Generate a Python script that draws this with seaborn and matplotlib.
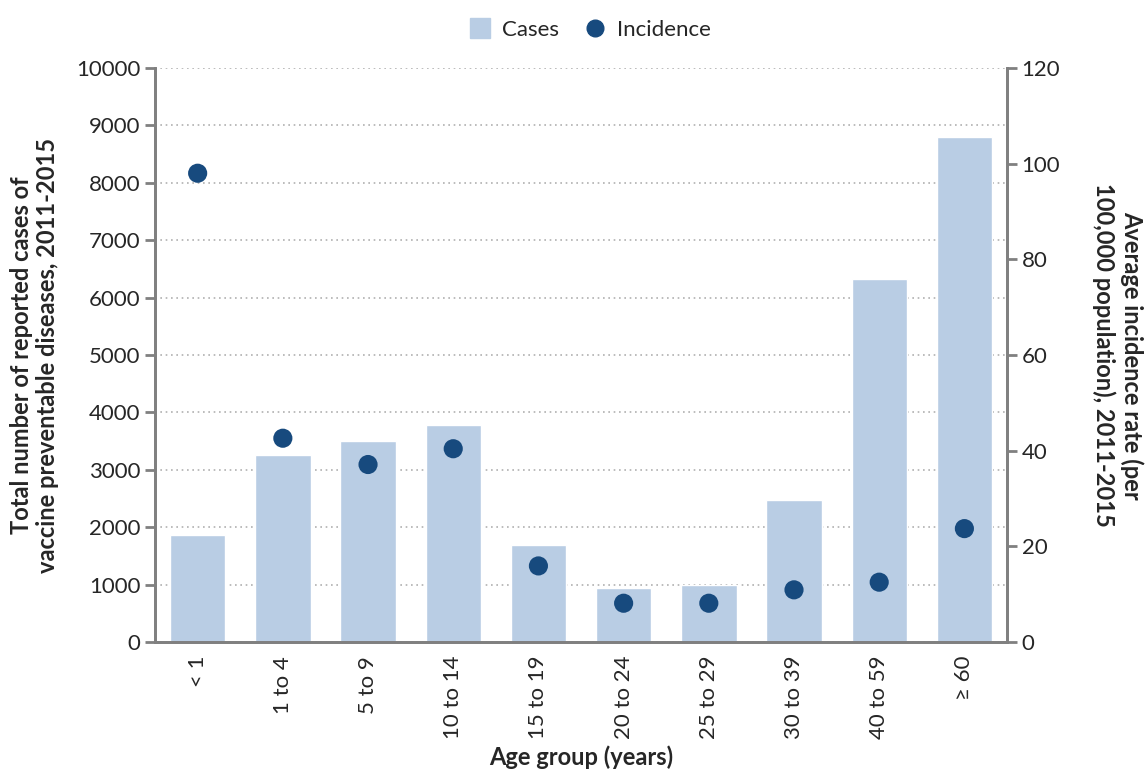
import matplotlib
matplotlib.use("Agg")
import matplotlib.pyplot as plt
from matplotlib.lines import Line2D
import seaborn as sns
import pandas as pd
import numpy as np

age_groups = ["< 1", "1 to 4", "5 to 9", "10 to 14", "15 to 19",
              "20 to 24", "25 to 29", "30 to 39", "40 to 59", "\u2265 60"]
cases = [1865, 3260, 3495, 3775, 1690, 945, 995, 2475, 6320, 8790]
incidence = [98.0, 42.6, 37.1, 40.4, 15.9, 8.1, 8.1, 10.9, 12.5, 23.7]

bar_color = "#b9cde4"
dot_color = "#174a7e"
axis_grey = "#808080"

sns.set_style("white")
plt.rcParams["font.family"] = ["Lato", "DejaVu Sans"]

df = pd.DataFrame({"age": age_groups, "cases": cases, "incidence": incidence})

fig = plt.figure(figsize=(11.46, 7.79), dpi=100)
ax = fig.add_axes([0.1353, 0.1759, 0.7434, 0.7368])

sns.barplot(data=df, x="age", y="cases", color=bar_color, width=0.65,
            saturation=1, ax=ax, zorder=2)
ax.set_ylim(0, 10000)
ax.set_yticks(np.arange(0, 10001, 1000))
ax.set_xlim(-0.5, len(age_groups) - 0.5)
ax.yaxis.grid(True, linestyle=(0, (1, 2.2)), color="#b0b0b0", linewidth=1.2, zorder=0)
ax.set_axisbelow(True)

ax2 = ax.twinx()
sns.scatterplot(data=df, x="age", y="incidence", color=dot_color, s=190,
                edgecolor="none", ax=ax2, zorder=3)
ax2.set_ylim(0, 120)
ax2.set_yticks(np.arange(0, 121, 20))

# ticks sit between the categories
ax.set_xticks(np.arange(len(age_groups)))
ax.set_xticklabels(age_groups, rotation=90, fontsize=16)
ax.tick_params(axis="x", which="major", length=0, pad=10)
ax.set_xticks(np.arange(-0.5, len(age_groups)), minor=True)
ax.tick_params(axis="x", which="minor", length=7, width=2, color=axis_grey)

ax.tick_params(axis="y", labelsize=16, length=7, width=2, color=axis_grey, left=True)
ax2.tick_params(axis="y", labelsize=16, length=7, width=2, color=axis_grey, right=True)

for a in (ax, ax2):
    a.spines["top"].set_visible(False)
    for side in ("left", "right", "bottom"):
        a.spines[side].set_color(axis_grey)
        a.spines[side].set_linewidth(2)

ax.set_xlabel("Age group (years)", fontsize=17, fontweight="bold", labelpad=4)
ax.set_ylabel("Total number of reported cases of\nvaccine preventable diseases, 2011-2015",
              fontsize=17, fontweight="bold", labelpad=12)
ax2.set_ylabel("Average incidence rate (per\n100,000 population), 2011-2015",
               fontsize=17, fontweight="bold", rotation=270, labelpad=60)

handles = [
    Line2D([], [], marker="s", color=bar_color, linestyle="none", markersize=14),
    Line2D([], [], marker="o", color=dot_color, linestyle="none", markersize=12),
]
fig.legend(handles, ["Cases", "Incidence"], loc="upper center",
           bbox_to_anchor=(0.51, 1.0), ncol=2, frameon=False, fontsize=16,
           handletextpad=0.0, columnspacing=0.6)

fig.savefig("out.png", dpi=100)
